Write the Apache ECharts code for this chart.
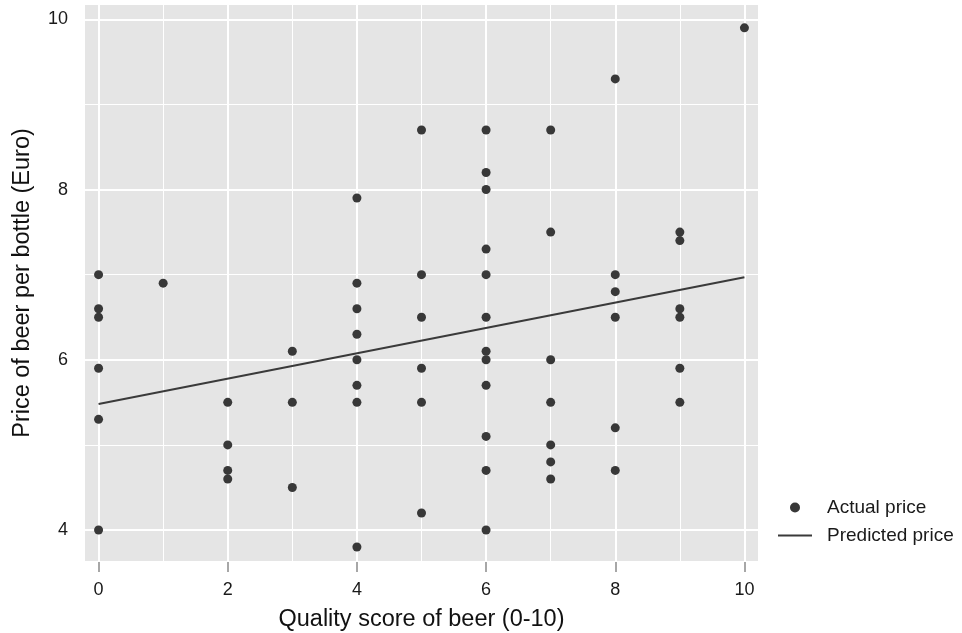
<!DOCTYPE html>
<html>
<head>
<meta charset="utf-8">
<script src="https://cdn.jsdelivr.net/npm/echarts@6/dist/echarts.min.js"></script>
<style>
html,body{margin:0;padding:0;background:#fff;}
#chart{width:962px;height:633px;}
</style>
</head>
<body>
<div id="chart"></div>
<script>
// ---- data ----
const qualityScore = [0,0,0,0,0,0, 1, 2,2,2,2, 3,3,3, 4,4,4,4,4,4,4,4, 5,5,5,5,5,5,
  6,6,6,6,6,6,6,6,6,6,6,6, 7,7,7,7,7,7,7, 8,8,8,8,8,8, 9,9,9,9,9,9, 10];
const price = [7.0,6.6,6.5,5.9,5.3,4.0, 6.9, 5.5,5.0,4.7,4.6, 6.1,5.5,4.5,
  7.9,6.9,6.6,6.3,6.0,5.7,5.5,3.8, 8.7,7.0,6.5,5.9,5.5,4.2,
  8.7,8.2,8.0,7.3,7.0,6.5,6.1,6.0,5.7,5.1,4.7,4.0,
  8.7,7.5,6.0,5.5,5.0,4.8,4.6, 9.3,7.0,6.8,6.5,5.2,4.7,
  7.5,7.4,6.6,6.5,5.9,5.5, 9.9];
const predictedX = [0, 10];
const predictedPrice = [5.48, 6.97];
const xTicks = [0,2,4,6,8,10];
const xMinor = [1,3,5,7,9];
const yTicks = [4,6,8,10];
const yMinor = [5,7,9];
const seriesNames = ['Actual price', 'Predicted price'];
const xTitle = 'Quality score of beer (0-10)';
const yTitle = 'Price of beer per bottle (Euro)';

const FONT = 'Liberation Sans, Arial, Helvetica, sans-serif';
const chart = echarts.init(document.getElementById('chart'), null, {renderer: 'canvas'});

const gridLines = [].concat(
  xTicks.map(v => ({xAxis: v, lineStyle: {width: 2}})),
  xMinor.map(v => ({xAxis: v, lineStyle: {width: 1}})),
  yTicks.map(v => ({yAxis: v, lineStyle: {width: 2}})),
  yMinor.map(v => ({yAxis: v, lineStyle: {width: 1}}))
);

const option = {
  animation: false,
  backgroundColor: '#ffffff',
  textStyle: {fontFamily: FONT},
  grid: {
    left: 85, top: 5, width: 673, height: 556,
    outerBoundsMode: 'none', containLabel: false,
    show: true, backgroundColor: '#e5e5e5', borderWidth: 0
  },
  xAxis: {
    type: 'value', min: -0.21, max: 10.21, offset: 1,
    name: xTitle, nameLocation: 'middle', nameGap: 46,
    nameTextStyle: {fontSize: 23.5, color: '#111', fontFamily: FONT},
    axisLine: {show: false},
    axisTick: {show: true, customValues: xTicks, length: 10, lineStyle: {color: '#8a8a8a', width: 1.5}},
    axisLabel: {customValues: xTicks, fontSize: 18, color: '#1a1a1a', margin: 19, fontFamily: FONT},
    splitLine: {show: false}
  },
  yAxis: {
    type: 'value', min: 3.636, max: 10.168, offset: 2,
    name: yTitle, nameLocation: 'middle', nameGap: 48,
    nameTextStyle: {fontSize: 23.5, color: '#111', fontFamily: FONT},
    axisLine: {show: false},
    axisTick: {show: true, customValues: yTicks, length: 10, lineStyle: {color: '#8a8a8a', width: 1.5}},
    axisLabel: {customValues: yTicks, fontSize: 18, color: '#1a1a1a', margin: 15, fontFamily: FONT, padding: [4, 0, 0, 0]},
    splitLine: {show: false}
  },
  legend: {
    orient: 'vertical', left: 778, top: 498, padding: 0,
    itemWidth: 34, itemHeight: 10, itemGap: 9,
    data: [
      {name: seriesNames[0], icon: 'circle'},
      {name: seriesNames[1], icon: 'path://M0,0L34,0L34,2L0,2Z'}
    ],
    textStyle: {fontSize: 19, lineHeight: 19, color: '#1a1a1a', fontFamily: FONT, padding: [0,0,0,10]}
  },
  series: [
    {
      type: 'scatter', data: [], silent: true, z: 1,
      markLine: {
        silent: true, symbol: 'none', animation: false, z: 1,
        label: {show: false},
        lineStyle: {color: '#ffffff', type: 'solid'},
        emphasis: {disabled: true},
        data: gridLines
      }
    },
    {
      name: seriesNames[1], type: 'line', z: 3,
      data: predictedX.map((x, i) => [x, predictedPrice[i]]),
      symbol: 'none', showSymbol: false,
      lineStyle: {color: '#3a3a3a', width: 2},
      itemStyle: {color: '#3a3a3a'}
    },
    {
      name: seriesNames[0], type: 'scatter', z: 4,
      data: qualityScore.map((x, i) => [x, price[i]]),
      symbol: 'circle', symbolSize: 9,
      itemStyle: {color: '#383838', opacity: 1}
    }
  ]
};
chart.setOption(option);
</script>
</body>
</html>
